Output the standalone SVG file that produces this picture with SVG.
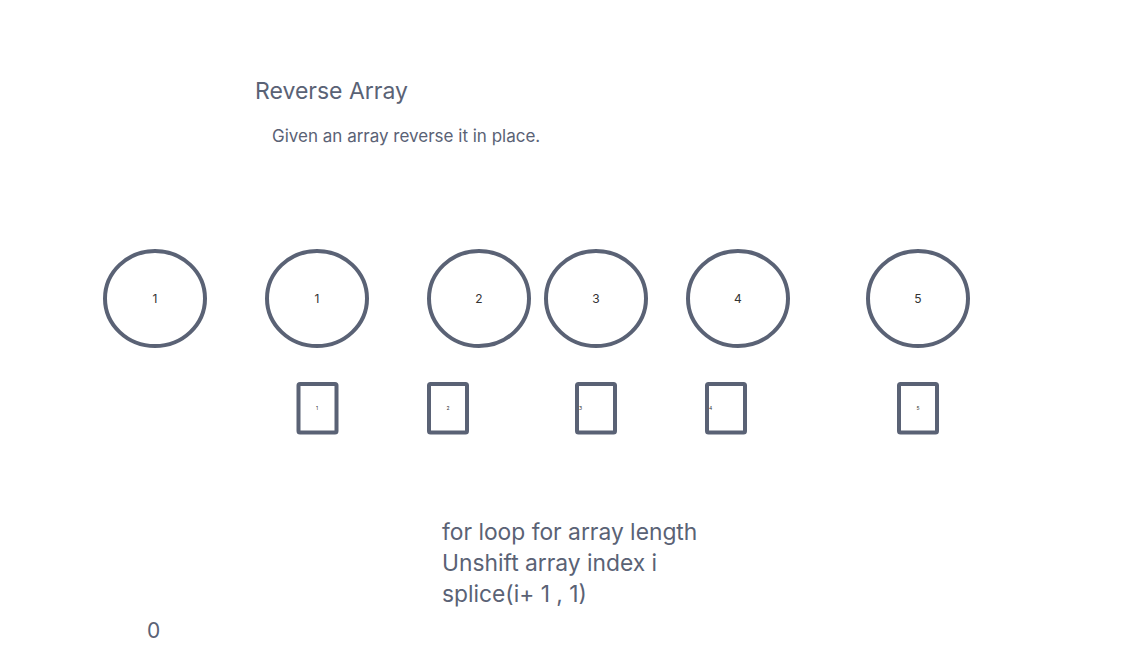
<svg xmlns="http://www.w3.org/2000/svg" width="1145" height="669" viewBox="0 0 1145 669">
<style>
.t{font-family:Inter,"Liberation Sans",sans-serif;fill:#5a6275}
.c{fill:#fff;stroke:#5a6275;stroke-width:4}
.r{fill:#fff;stroke:#5a6275;stroke-width:4}
.n{font-family:Inter,"Liberation Sans",sans-serif;fill:#333;font-size:12px;text-anchor:middle}
.s{font-family:Inter,"Liberation Sans",sans-serif;fill:#333;font-size:5px}
</style>
<rect width="1145" height="669" fill="#fff"/>
<text class="t" x="255" y="99" font-size="23">Reverse Array</text>
<text class="t" x="272" y="142" font-size="17">Given an array reverse it in place.</text>
<g id="c1"><ellipse class="c" cx="155" cy="298.5" rx="50" ry="47.5"/><text class="n" x="155" y="303">1</text></g>
<g id="c2"><ellipse class="c" cx="317" cy="298.5" rx="50" ry="47.5"/><text class="n" x="317" y="303">1</text></g>
<g id="c3"><ellipse class="c" cx="479" cy="298.5" rx="50" ry="47.5"/><text class="n" x="479" y="303">2</text></g>
<g id="c4"><ellipse class="c" cx="596" cy="298.5" rx="50" ry="47.5"/><text class="n" x="596" y="303">3</text></g>
<g id="c5"><ellipse class="c" cx="738" cy="298.5" rx="50" ry="47.5"/><text class="n" x="738" y="303">4</text></g>
<g id="c6"><ellipse class="c" cx="918" cy="298.5" rx="50" ry="47.5"/><text class="n" x="918" y="303">5</text></g>
<g id="r1"><rect class="r" x="298.5" y="384" width="38" height="48.5" rx="1.5"/><text class="s" x="317" y="410" text-anchor="middle">1</text></g>
<g id="r2"><rect class="r" x="429" y="384" width="38" height="48.5" rx="1.5"/><text class="s" x="448" y="410" text-anchor="middle">2</text></g>
<g id="r3"><rect class="r" x="577" y="384" width="38" height="48.5" rx="1.5"/><text class="s" x="579" y="410">3</text></g>
<g id="r4"><rect class="r" x="707" y="384" width="38" height="48.5" rx="1.5"/><text class="s" x="709" y="410">4</text></g>
<g id="r5"><rect class="r" x="899" y="384" width="38" height="48.5" rx="1.5"/><text class="s" x="918" y="410" text-anchor="middle">5</text></g>
<g id="connectors"></g>
<text class="t" font-size="22.8"><tspan x="442" y="540">for loop for array length</tspan><tspan x="442" y="571">Unshift array index i</tspan><tspan x="442" y="602">splice(i+ 1 , 1)</tspan></text>
<text class="t" x="147" y="638" font-size="21">0</text>
</svg>
